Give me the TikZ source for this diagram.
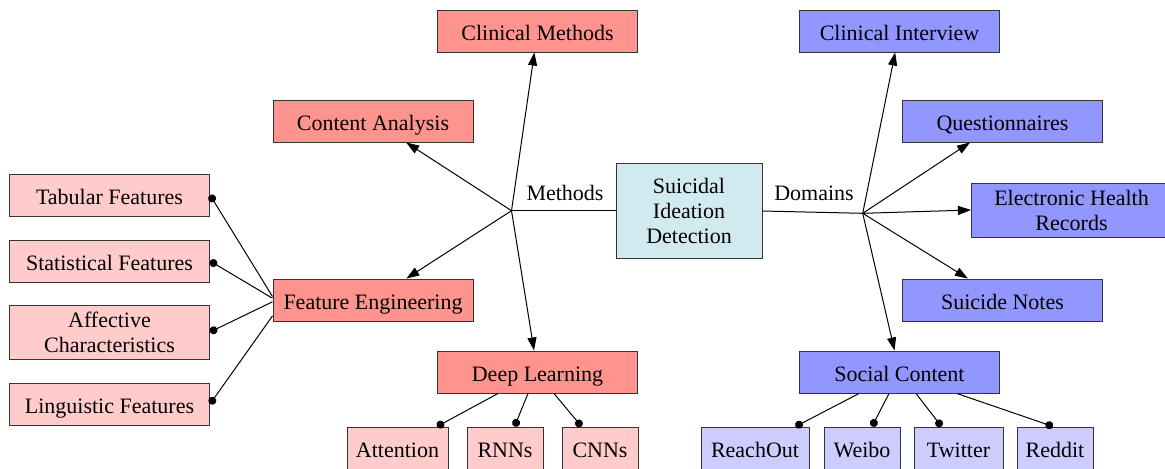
\documentclass[tikz,border=0pt]{standalone}
\usepackage{fontspec}
\setmainfont{Liberation Serif}
\usetikzlibrary{arrows.meta,calc}
\definecolor{redbox}{RGB}{255,148,143}
\definecolor{redlight}{RGB}{255,204,203}
\definecolor{bluebox}{RGB}{146,150,255}
\definecolor{bluelight}{RGB}{204,204,255}
\definecolor{centerbox}{RGB}{209,234,239}
\tikzset{
  box/.style={draw=black!80, line width=0.5pt, rectangle, align=center, inner sep=0pt, font=\fontsize{11pt}{12.5pt}\selectfont},
  bigbox/.style={box, minimum width=100pt, minimum height=21pt, text height=9pt, text depth=0pt},
  tallbox/.style={box, minimum width=100pt, minimum height=27pt},
  smallbox/.style={box, minimum width=38pt, minimum height=21pt, text height=9pt, text depth=0pt},
  arr/.style={line width=0.5pt, -{Triangle[length=6.5pt,width=4.5pt]}},
  dotline/.style={line width=0.5pt, -{Circle[length=4pt]}},
  plain/.style={line width=0.5pt},
  lbl/.style={font=\fontsize{11pt}{12pt}\selectfont, inner sep=0pt}
}
\begin{document}
\begin{tikzpicture}[x=0.5pt,y=-0.5pt]
\useasboundingbox (0,0) rectangle (1165,468);
% center
\node[box, fill=centerbox, minimum width=73pt, minimum height=47.5pt] (sid) at (689,210.5) {Suicidal\\Ideation\\Detection};
\coordinate (m) at (511.5,210.7);
\coordinate (d) at (862.7,213.3);
% methods side
\node[bigbox, fill=redbox] (cm) at (537.5,31) {Clinical Methods};
\node[bigbox, fill=redbox] (ca) at (373,121) {Content Analysis};
\node[bigbox, fill=redbox] (fe) at (373,300) {Feature Engineering};
\node[bigbox, fill=redbox] (dl) at (537.5,372) {Deep Learning};
\node[bigbox, fill=redlight] (tab) at (109.5,195) {Tabular Features};
\node[bigbox, fill=redlight] (stat) at (109.5,261) {Statistical Features};
\node[tallbox, fill=redlight] (aff) at (109.5,332) {Affective\\Characteristics};
\node[bigbox, fill=redlight] (ling) at (109.5,404) {Linguistic Features};
\node[smallbox, fill=redlight, minimum width=50.5pt] (attn) at (397.5,448) {Attention};
\node[smallbox, fill=redlight] (rnn) at (505,448) {RNNs};
\node[smallbox, fill=redlight] (cnn) at (600,448) {CNNs};
% domains side
\node[bigbox, fill=bluebox] (ci) at (899.5,31) {Clinical Interview};
\node[bigbox, fill=bluebox] (q) at (1002.5,121) {Questionnaires};
\node[tallbox, fill=bluebox] (ehr) at (1071.5,210) {Electronic Health\\Records};
\node[bigbox, fill=bluebox] (sn) at (1002.5,300) {Suicide Notes};
\node[bigbox, fill=bluebox] (sc) at (899.5,372) {Social Content};
\node[smallbox, fill=bluelight, minimum width=54pt] (reach) at (755,448) {ReachOut};
\node[smallbox, fill=bluelight] (weibo) at (862,448) {Weibo};
\node[smallbox, fill=bluelight, minimum width=44.5pt] (twit) at (958.5,448) {Twitter};
\node[smallbox, fill=bluelight] (reddit) at (1055,448) {Reddit};
% trunk lines
\draw[plain] (sid.west |- m) -- (m);
\draw[plain] (sid.east |- 0,211) -- (d);
\node[lbl] (ml) at (565,193) {Methods};
\node[lbl] (dlb) at (814,193) {Domains};
% method arrows
\draw[arr] (m) -- (cm);
\draw[arr] (m) -- (ca);
\draw[arr] (m) -- (fe);
\draw[arr] (m) -- (dl);
% domain arrows
\draw[arr] (d) -- (ci);
\draw[arr] (d) -- (q);
\draw[arr] (d) -- (ehr.west);
\draw[arr] (d) -- (sn);
\draw[arr] (d) -- (sc);
% feature engineering children
\draw[dotline] (fe.178.5) -- (tab.east);
\draw[dotline] (fe.179.5) -- (stat.east);
\draw[dotline] (fe.181.5) -- (aff.east);
\draw[dotline] (fe.189) -- (ling.east);
% deep learning children
\draw[dotline] ($(dl.south)+(-39.5,0)$) -- ($(attn.north east)+(-11.5,0)$);
\draw[dotline] ($(dl.south)+(-9.5,0)$) -- ($(rnn.north)+(9.5,0)$);
\draw[dotline] ($(dl.south)+(16.5,0)$) -- ($(cnn.north)+(-18.5,0)$);
% social content children
\draw[dotline] ($(sc.south)+(-40.5,0)$) -- ($(reach.north)+(40.5,0)$);
\draw[dotline] ($(sc.south)+(-10.5,0)$) -- ($(weibo.north)+(10,0)$);
\draw[dotline] ($(sc.south)+(16.5,0)$) -- ($(twit.north)+(-17,0)$);
\draw[dotline] ($(sc.south)+(57.5,0)$) -- ($(reddit.north)+(-2,0)$);
\end{tikzpicture}
\end{document}
